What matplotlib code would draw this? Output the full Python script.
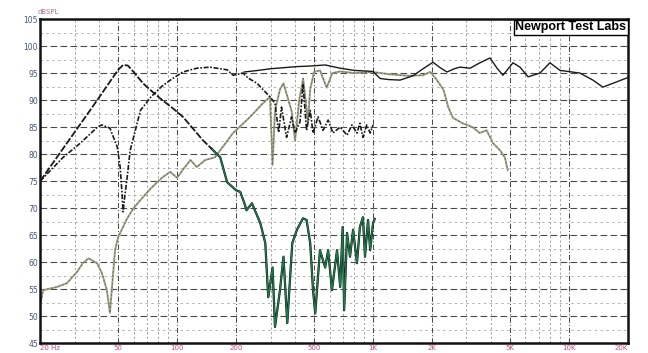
import matplotlib
matplotlib.use("Agg")
import matplotlib.pyplot as plt
import numpy as np

# %% Data (frequency in Hz, level in dB SPL)
port_f = [20, 25, 32, 40, 45, 50, 53, 56, 60, 67, 75, 84, 95, 107, 120, 135, 150]
port_db = [75, 80, 85.5, 90.5, 93.2, 95.6, 96.5, 96.4, 95.2, 93.1, 91.5, 90, 88.5,
           86.9, 84.8, 82.6, 81]

# port output above tuning (green trace)
pg_f = [150, 166, 180, 200, 210, 220, 226, 241, 250, 266, 282, 288, 292, 307, 316,
        335, 349, 365, 387, 409, 439, 458, 478, 494, 507, 536, 570, 590, 617, 655,
        680, 700, 712, 737, 763, 791, 828, 857, 888, 910, 943, 967, 1000, 1020]
pg_db = [81, 79.4, 74.8, 73.3, 73, 71, 69.6, 70.9, 69.5, 67.2, 63.5, 57.2, 53.5, 59,
         48, 54.8, 61, 48.7, 63.5, 66, 68.1, 67.8, 63.5, 54.8, 50.5, 62.2, 59, 62.2,
         54.8, 62.2, 55.4, 66.5, 51.1, 65.4, 61, 66, 59.8, 66.5, 68.3, 61, 67.8,
         62.2, 67.2, 68]

woof_f = [20, 26.2, 32, 39.2, 41.3, 45.4, 49.5, 51.2, 52.2, 53, 54, 55.6, 57.6, 61.2,
          65, 73.6, 82.7, 92.3, 107, 126, 147, 180, 193, 217, 230, 256, 275, 298,
          316, 330, 341, 362, 384, 400, 424, 439, 458, 478, 494, 524, 556, 590, 624,
          680, 737, 780, 828, 857, 888, 929, 967, 1000]
woof_db = [75, 79.4, 82, 85, 85.4, 84.8, 81.3, 77.6, 73.3, 69.3, 72, 75.7, 80.7, 84.4,
           88.1, 90.6, 92.4, 93.7, 95.2, 95.9, 96.1, 95.6, 94.6, 95, 94.1, 93.1, 91.9,
           90.6, 89.4, 84, 88.7, 83.1, 86.9, 83.9, 86, 93, 84.4, 88.1, 83.9, 86.9,
           84.4, 86.3, 83.9, 85, 83.5, 85.4, 83.9, 85.7, 83.1, 85.4, 83.9, 85.4]

mid_f = [20, 20.7, 24.4, 27.4, 31, 33, 35.3, 39, 41.3, 43.8, 45.4, 48.2, 50, 55.6, 60,
         65, 73.6, 84.2, 92.3, 100, 107, 117, 126, 139, 156, 193, 236, 274, 298, 307,
         316, 335, 349, 384, 400, 420, 440, 465, 478, 500, 536, 580, 620, 680, 800,
         1000, 1200, 1500, 1800, 1960, 2120, 2290, 2420, 2560, 2870, 3220, 3500,
         3800, 4100, 4450, 4710, 4870]
mid_db = [52, 54.8, 55.4, 56.1, 58.3, 59.8, 60.7, 59.8, 58, 54.8, 50.6, 62.2, 64.6,
          68.1, 70, 71.5, 73.7, 75.7, 76.7, 75.6, 77.1, 78.9, 77.6, 78.9, 79.4, 83.9,
          86.9, 89.4, 90.6, 78, 88, 92, 93.1, 88, 82.5, 90, 94, 86, 92, 95.2, 95.5,
          92.3, 95, 95.3, 95, 95.2, 94.8, 94.5, 94.6, 95.2, 93.7, 91.9, 88.7, 86.7,
          85.7, 85, 83.9, 84.4, 82, 80.7, 79.4, 77]

sys_f = [220, 260, 300, 350, 409, 478, 570, 680, 800, 1000, 1086, 1200, 1374, 1600,
         1800, 2023, 2200, 2385, 2600, 2780, 3127, 3514, 3955, 4295, 4605, 5180, 5625,
         6180, 7110, 8000, 8995, 11380, 13250, 14900, 16760, 19760, 20000]
sys_db = [95.2, 95.5, 95.8, 96, 96.2, 96.3, 96.5, 95.9, 95.5, 95.3, 94, 93.8, 93.7,
          94.5, 95.8, 97.0, 96, 95.2, 95.8, 96.1, 95.9, 96.9, 97.8, 95.9, 94.6, 96.9,
          96.1, 94.3, 95, 96.9, 95.5, 95, 93.7, 92.4, 93.1, 94.1, 94.2]

y_ticks = [45, 50, 55, 60, 65, 70, 75, 80, 85, 90, 95, 100, 105]
x_ticks = [20, 50, 100, 200, 500, 1000, 2000, 5000, 10000, 20000]
x_labels = ["20 Hz", "50", "100", "200", "500", "1K", "2K", "5K", "10K", "20K"]

# %% Figure
fig = plt.figure(figsize=(6.48, 3.53), dpi=100)
ax = fig.add_axes([0.062, 0.028, 0.907, 0.918])
ax.set_xscale("log")
ax.set_xlim(20, 20000)
ax.set_ylim(45, 105)

# Grid: dashed lines like the printed chart
for v in np.arange(47.5, 105, 5):
    ax.axhline(v, color="#a8a8a8", lw=0.6, dashes=(3, 4), zorder=0)
for v in range(50, 105, 5):
    ax.axhline(v, color="#4a4a4a", lw=0.8, dashes=(6, 3), zorder=0)
for dec in [10, 100, 1000, 10000]:
    for m in range(1, 10):
        f = dec * m
        if 20 < f < 20000:
            heavy = m in (1, 2, 5)
            ax.axvline(f, color="#4a4a4a" if heavy else "#8c8c8c",
                       lw=0.75 if heavy else 0.55,
                       dashes=(5, 2, 1, 2) if heavy else (3, 3), zorder=0)

# Curves
ax.plot(mid_f, mid_db, color="#a3a38a", lw=1.4, zorder=2)
ax.plot(mid_f, mid_db, color="#6e6e60", lw=0.7, dashes=(2, 2), zorder=2)
ax.plot(pg_f, pg_db, color="#111111", lw=1.6, zorder=3)
ax.plot(pg_f, pg_db, color="#1c7a4c", lw=1.0, zorder=3)
ax.plot(port_f, port_db, color="#1a1a1a", lw=1.3, dashes=(4, 1), zorder=4)
ax.plot(woof_f, woof_db, color="#1a1a1a", lw=1.2, dashes=(3, 1, 1, 1), zorder=4)
ax.plot(sys_f, sys_db, color="#1a1a1a", lw=1.0, zorder=4)

# Ticks and labels
ax.set_yticks(y_ticks)
ax.set_yticklabels([str(v) for v in y_ticks], fontsize=5.5, color="#45557f")
ax.set_xticks(x_ticks)
ax.set_xticklabels(x_labels, fontsize=5, color="#c8487e")
ax.get_xticklabels()[0].set_ha("left")
ax.get_xticklabels()[-1].set_ha("right")
ax.xaxis.set_minor_locator(matplotlib.ticker.NullLocator())
ax.tick_params(axis="both", length=0, pad=1.5)

for s in ax.spines.values():
    s.set_linewidth(1.8)
    s.set_color("#111111")

ax.text(-0.005, 1.012, "dBSPL", transform=ax.transAxes, fontsize=5,
        color="#b07090", ha="left", va="bottom")

ax.text(0.997, 0.993, "Newport Test Labs", transform=ax.transAxes, ha="right",
        va="top", fontsize=9, fontweight="bold", family="Liberation Sans",
        color="black", zorder=6,
        bbox=dict(boxstyle="square,pad=0.12", fc="white", ec="black", lw=1.0))

fig.savefig("out.png", dpi=100)
